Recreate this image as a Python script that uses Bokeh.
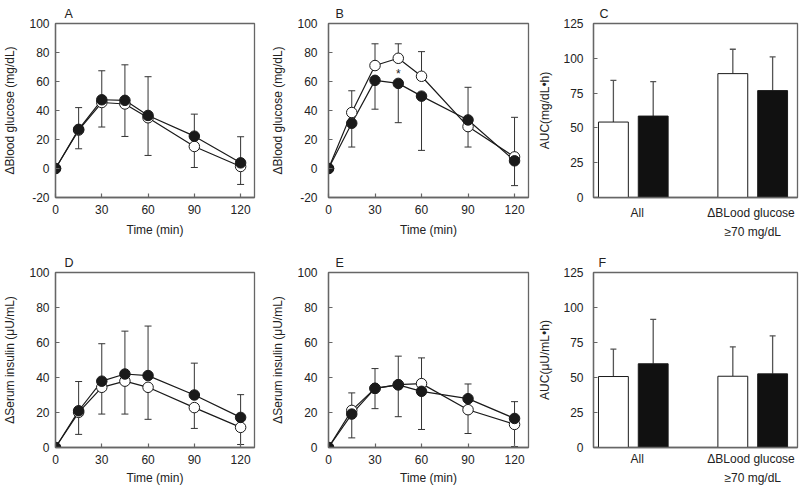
from bokeh.plotting import figure
from bokeh.models import ColumnDataSource, Whisker, TeeHead, FixedTicker, Label, Range1d, Title
from bokeh.layouts import row, column
from bokeh.embed import file_html
from bokeh.resources import INLINE

# ---------------- data ----------------
time_min = [0, 15, 30, 45, 60, 90, 120]
time_ticks = [0, 30, 60, 90, 120]

# A: blood glucose, all subjects
glu_a_open = [0, 26.5, 45.5, 44.5, 35.0, 15.2, 1.4]
glu_a_open_sd = [0, 12.9, 16.9, 22.4, 26.0, 14.5, 12.4]
glu_a_filled = [0, 27.0, 47.4, 47.0, 36.6, 22.3, 3.9]
glu_a_filled_sd = [0, 15.0, 20.0, 24.5, 26.7, 15.2, 18.0]

# B: blood glucose, subgroup
glu_b_open = [0, 38.6, 71.0, 76.0, 63.6, 28.9, 8.0]
glu_b_open_sd = [0, 15.0, 15.0, 10.0, 17.0, 27.1, 27.3]
glu_b_filled = [0, 31.2, 60.8, 58.7, 49.9, 33.5, 5.3]
glu_b_filled_sd = [0, 16.4, 19.9, 27.1, 37.4, 18.7, 17.1]

# D: serum insulin, all subjects
ins_d_open = [0, 20.1, 34.4, 37.9, 34.4, 22.8, 11.5]
ins_d_open_sd = [0, 12.6, 15.3, 18.8, 18.3, 11.9, 9.8]
ins_d_filled = [0, 21.0, 37.9, 42.0, 41.1, 30.0, 17.2]
ins_d_filled_sd = [0, 16.7, 21.4, 24.5, 28.3, 18.2, 13.0]

# E: serum insulin, subgroup
ins_e_open = [0, 21.2, 33.8, 35.9, 36.5, 21.6, 13.2]
ins_e_open_sd = [0, 15.7, 11.6, 18.3, 26.2, 13.6, 12.7]
ins_e_filled = [0, 19.1, 33.8, 35.8, 32.1, 27.9, 16.6]
ins_e_filled_sd = [0, 12.1, 11.3, 16.4, 19.1, 8.4, 9.6]

# C / F: AUC bars
auc_groups = ["All", "\u0394BLood  glucose\n\u226570 mg/dL"]
auc_c_open = [54.2, 89.0]
auc_c_open_sd = [30.0, 17.5]
auc_c_filled = [58.5, 76.8]
auc_c_filled_sd = [24.8, 24.2]
auc_f_open = [50.7, 50.9]
auc_f_open_sd = [19.6, 21.0]
auc_f_filled = [59.8, 52.6]
auc_f_filled_sd = [31.7, 27.2]

# ---------------- style ----------------
FONT = "Liberation Sans"
FRAME = "#666666"
TXT = "#222222"
LINE = "#1a1a1a"
ERR = "#333333"


def base_fig(letter, letter_off, width, height, left, right, top, bottom, x_range, y_range):
    p = figure(width=width, height=height, x_range=x_range, y_range=y_range,
               min_border_left=left, min_border_right=right,
               min_border_top=top, min_border_bottom=bottom,
               toolbar_location=None, output_backend="svg", tools="")
    p.title = Title(text=letter, align="left", offset=letter_off, standoff=6,
                    vertical_align="bottom", text_font=FONT, text_font_size="12.5px",
                    text_font_style="normal", text_color=TXT)
    p.xgrid.visible = False
    p.ygrid.visible = False
    p.outline_line_color = FRAME
    p.outline_line_width = 1.3
    p.background_fill_color = "white"
    p.border_fill_color = "white"
    for ax in p.axis:
        ax.axis_line_color = FRAME
        ax.axis_line_width = 1.3
        ax.major_tick_line_color = FRAME
        ax.major_tick_line_width = 1.2
        ax.major_tick_in = 4
        ax.major_tick_out = 0
        ax.minor_tick_in = 0
        ax.minor_tick_out = 0
        ax.major_label_text_font = FONT
        ax.major_label_text_font_size = "12px"
        ax.major_label_text_color = TXT
        ax.axis_label_text_font = FONT
        ax.axis_label_text_font_size = "12px"
        ax.axis_label_text_font_style = "normal"
        ax.axis_label_text_color = TXT
    return p


def one_sided(values, sd, up):
    if up:
        return values, [v + s for v, s in zip(values, sd)]
    return [v - s for v, s in zip(values, sd)], values


def line_panel(letter, letter_off, o, o_sd, o_up, f, f_sd, f_up, ylabel, ylo, yticks,
               width, height, left, right, top, bottom,
               ytick_standoff, ylab_standoff, xtick_standoff, xlab_standoff, star=None):
    p = base_fig(letter, letter_off, width, height, left, right, top, bottom,
                 Range1d(0, 129), Range1d(ylo, 100))
    p.xaxis.ticker = FixedTicker(ticks=time_ticks)
    p.yaxis.ticker = FixedTicker(ticks=yticks)
    p.yaxis.major_label_overrides = {t: str(t) for t in yticks}
    p.xaxis.axis_label = "Time (min)"
    p.yaxis.axis_label = ylabel
    p.yaxis.major_label_standoff = ytick_standoff
    p.yaxis.axis_label_standoff = ylab_standoff
    p.xaxis.major_label_standoff = xtick_standoff
    p.xaxis.axis_label_standoff = xlab_standoff

    for vals, sd, up in ((o, o_sd, o_up), (f, f_sd, f_up)):
        lo, hi = one_sided(vals, sd, up)
        src = ColumnDataSource(dict(t=time_min[1:], lo=lo[1:], hi=hi[1:]))
        head = TeeHead(size=7, line_color=ERR, line_width=1)
        if up:
            w = Whisker(base="t", lower="lo", upper="hi", source=src,
                        upper_head=head, lower_head=None,
                        line_color=ERR, line_width=1)
        else:
            w = Whisker(base="t", lower="lo", upper="hi", source=src,
                        lower_head=head, upper_head=None,
                        line_color=ERR, line_width=1)
        p.add_layout(w)

    p.line(time_min, o, line_color=LINE, line_width=1.2)
    p.line(time_min, f, line_color=LINE, line_width=1.2)
    p.scatter(time_min, o, size=10.5, fill_color="white", line_color=LINE, line_width=1)
    p.scatter(time_min, f, size=10.5, fill_color=LINE, line_color=LINE, line_width=1)
    if star is not None:
        p.add_layout(Label(x=star[0], y=star[1], text="*", text_font=FONT,
                           text_font_size="12px", text_color=TXT,
                           text_align="center", text_baseline="middle"))
    return p


def bar_panel(letter, letter_off, o, o_sd, f, f_sd, ylabel, width, height, left, right, top,
              bottom, ytick_standoff, ylab_standoff, xtick_standoff, line_h):
    p = base_fig(letter, letter_off, width, height, left, right, top, bottom,
                 Range1d(0.5, 5.625), Range1d(0, 125))
    n = len(auc_groups)
    x_open = [1 + 3 * i for i in range(n)]
    x_filled = [2 + 3 * i for i in range(n)]
    tick_pos = [1.6, 4.5]
    p.xaxis.ticker = FixedTicker(ticks=tick_pos)
    p.xaxis.major_label_overrides = {tp: g for tp, g in zip(tick_pos, auc_groups)}
    p.xaxis.major_label_text_line_height = line_h
    p.xaxis.major_tick_in = 0
    p.xaxis.major_label_standoff = xtick_standoff
    p.yaxis.ticker = FixedTicker(ticks=[0, 25, 50, 75, 100, 125])
    p.yaxis.axis_label = ylabel
    p.yaxis.major_label_standoff = ytick_standoff
    p.yaxis.axis_label_standoff = ylab_standoff

    for xs, vals, sd in ((x_open, o, o_sd), (x_filled, f, f_sd)):
        src = ColumnDataSource(dict(x=xs, y=vals, hi=[v + s for v, s in zip(vals, sd)]))
        p.add_layout(Whisker(base="x", lower="y", upper="hi", source=src,
                             upper_head=TeeHead(size=6, line_color="#555555", line_width=1.3),
                             lower_head=None, line_color="#555555", line_width=1.3))
    p.vbar(x=x_open, top=o, width=0.75, fill_color="white", line_color=LINE, line_width=1)
    p.vbar(x=x_filled, top=f, width=0.75, fill_color="#111111", line_color=LINE, line_width=1)
    return p


# row 1
H1, T1, B1 = 245, 23, 48
pa = line_panel("A", 9, glu_a_open, glu_a_open_sd, False, glu_a_filled, glu_a_filled_sd, True,
                "\u0394Blood glucose (mg/dL)", -20, [-20, 0, 20, 40, 60, 80, 100],
                268, H1, 55, 14, T1, B1, 6, 9, 7, 6)
pb = line_panel("B", 7, glu_b_open, glu_b_open_sd, True, glu_b_filled, glu_b_filled_sd, False,
                "\u0394Blood glucose (mg/dL)", -20, [-20, 0, 20, 40, 60, 80, 100],
                267, H1, 59, 7, T1, B1, 11, 9, 7, 6, star=(45, 65.5))
pc = bar_panel("C", 6, auc_c_open, auc_c_open_sd, auc_c_filled, auc_c_filled_sd,
               "AUC(mg/dL\u2022h)", 264, H1, 57, 2, T1, B1, 10, 8, 8, 1.4)

# row 2
H2, T2, B2 = 244, 27, 42
pd_ = line_panel("D", 9, ins_d_open, ins_d_open_sd, False, ins_d_filled, ins_d_filled_sd, True,
                 "\u0394Serum insulin (\u03bcU/mL)", 0, [0, 20, 40, 60, 80, 100],
                 268, H2, 55, 14, T2, B2, 6, 9, 7, 4)
pe = line_panel("E", 7, ins_e_open, ins_e_open_sd, False, ins_e_filled, ins_e_filled_sd, True,
                "\u0394Serum insulin (\u03bcU/mL)", 0, [0, 20, 40, 60, 80, 100],
                267, H2, 59, 7, T2, B2, 11, 9, 7, 4)
pf = bar_panel("F", 5, auc_f_open, auc_f_open_sd, auc_f_filled, auc_f_filled_sd,
               "AUC(\u03bcU/mL\u2022h)", 264, H2, 57, 2, T2, B2, 10, 8, 4, 1.4)

layout = column(row(pa, pb, pc, spacing=0), row(pd_, pe, pf, spacing=0), spacing=0)

open("out.html", "w").write(file_html(layout, INLINE))
